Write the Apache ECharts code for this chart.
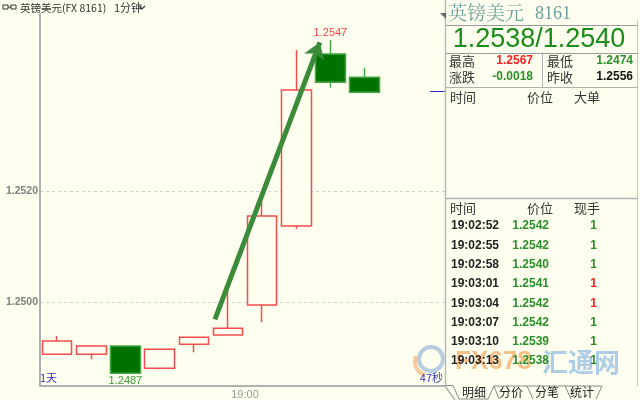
<!DOCTYPE html>
<html><head><meta charset="utf-8">
<script src="https://cdn.jsdelivr.net/npm/echarts@6/dist/echarts.min.js"></script>
<style>html,body{margin:0;padding:0;background:#fffff0}#c{width:640px;height:400px}</style>
</head><body><div id="c"></div>
<script>
// ---- data ----
const categories = ['18:54','18:55','18:56','18:57','18:58','18:59','19:00','19:01','19:02','19:03','19:04','19:05'];
// [open, close, low, high]
const opens  = [1.24906, 1.24906, 1.24921, 1.24881, 1.24924, 1.24941, 1.24995, 1.25137, 1.25447, 1.25405];
const closes = [1.24930, 1.24921, 1.24872, 1.24915, 1.24937, 1.24953, 1.25155, 1.25382, 1.25396, 1.25378];
const lows   = [1.24906, 1.24897, 1.24872, 1.24879, 1.24910, 1.24941, 1.24964, 1.25132, 1.25386, 1.25378];
const highs  = [1.24939, 1.24921, 1.24921, 1.24915, 1.24937, 1.25027, 1.25190, 1.25454, 1.25472, 1.25422];
const yTicks = [1.2500, 1.2520];
const timeTickLabel = '19:00';
const currentPrice = 1.2538;
const arrowPts = [[5.12, 1.24969], [8.19, 1.25468]];

const symbolTitle = '英镑美元(FX 8161)';
const periodLabel = '1分钟';
const panelTitle = '英镑美元';
const panelCode = '8161';
const bidAsk = '1.2538/1.2540';
const stats = [
  ['最高', '1.2567', 'up'], ['最低', '1.2474', 'down'],
  ['涨跌', '-0.0018', 'down'], ['昨收', '1.2556', 'flat']
];
const tickTimes  = ['19:02:52','19:02:55','19:02:58','19:03:01','19:03:04','19:03:07','19:03:10','19:03:13'];
const tickPrices = ['1.2542','1.2542','1.2540','1.2541','1.2542','1.2542','1.2539','1.2538'];
const tickSizes  = ['1','1','1','1','1','1','1','1'];
const tickDirs   = ['down','down','down','up','up','down','down','down'];
const tabs = ['明细','分价','分笔','统计'];

// ---- styles ----
const BG = '#fffff0';
const RED = '#f44c4c';
const CJK = '"Noto Sans CJK SC", sans-serif';
const NUM = '"Liberation Sans", Arial, sans-serif';
const dirColor = d => d === 'up' ? '#ff2020' : d === 'down' ? '#2a8f2a' : '#111';

const chart = echarts.init(document.getElementById('c'), null, {renderer: 'canvas'});
const candles = opens.map((o, i) => [o, closes[i], lows[i], highs[i]]);

const g = [];
function txt(x, y, text, o) {
  o = o || {};
  g.push({type: 'text', x: x, y: y, z: o.z || 10, style: {
    text: text, fill: o.fill || '#222', align: o.align || 'left', verticalAlign: 'middle',
    fontFamily: o.family || CJK, fontSize: o.size || 12, fontWeight: o.weight || 'normal',
    opacity: o.opacity == null ? 1 : o.opacity
  }});
}
function ln(x1, y1, x2, y2, c, w) {
  g.push({type: 'line', z: 10, shape: {x1, y1, x2, y2}, style: {stroke: c || '#a8a8a8', lineWidth: w || 1}});
}

// header left
g.push({type:'rect', shape:{x:3,y:5,width:5,height:4}, style:{fill:'none', stroke:'#333', lineWidth:1}});
g.push({type:'rect', shape:{x:11,y:5,width:5,height:4}, style:{fill:'none', stroke:'#333', lineWidth:1}});
ln(8, 7, 11, 7, '#333', 1);
txt(20, 8, symbolTitle, {size: 10.5, fill: '#333'});
txt(114, 8, periodLabel, {size: 11, fill: '#333'});
g.push({type:'polyline', shape:{points:[[139,6],[142,9],[145,6]]}, style:{stroke:'#333', lineWidth:1.2, fill:'none'}});

// right panel
g.push({type:'rect', z: 8, shape:{x:446, y:0, width:194, height:400}, style:{fill:BG}});
ln(445.5, 0, 445.5, 386, '#b8b8b8', 1.5);
ln(637.5, 20, 637.5, 386, '#c8c8c8', 1);
g.push({type:'polygon', z: 10, shape:{points:[[440,13],[446,13],[446,19]]}, style:{fill:'#666'}});
txt(448, 13, panelTitle, {size: 19, fill: '#6a9f9a', family: '"Noto Serif CJK SC", "Noto Sans CJK SC", serif'});
txt(535, 14, panelCode, {size: 18, fill: '#6a9f9a', family: '"Liberation Serif", "DejaVu Serif", serif'});
ln(446, 25.5, 638, 25.5, '#9a9a9a', 1);
ln(446, 53.5, 638, 53.5, '#9a9a9a', 1);
txt(539, 40, bidAsk, {size: 27, fill: '#1a8c1a', family: NUM, align: 'center'});
ln(542.5, 54, 542.5, 87, '#b0b0b0', 1);
ln(446, 87.5, 638, 87.5, '#b0b0b0', 1);
stats.forEach((s, i) => {
  const col = i % 2, row = Math.floor(i / 2);
  const y = 61 + row * 16;
  txt(col ? 547 : 449, y, s[0], {size: 13, fill: '#333'});
  txt(col ? 633 : 533, y, s[1], {size: 12, fill: dirColor(s[2]), family: NUM, weight: 'bold', align: 'right'});
});
txt(450, 97, '时间', {size: 13, fill: '#333'});
txt(527, 97, '价位', {size: 13, fill: '#333'});
txt(574, 97, '大单', {size: 13, fill: '#333'});
ln(446, 198.5, 638, 198.5, '#b0b0b0', 1.5);
txt(450, 208, '时间', {size: 13, fill: '#333'});
txt(527, 208, '价位', {size: 13, fill: '#333'});
txt(574, 208, '现手', {size: 13, fill: '#333'});
// watermark (behind table text)
g.push({type:'circle', z: 9, shape:{cx:431, cy:359, r:12}, style:{fill:'none', stroke:'#9ab8d8', lineWidth:4, opacity:0.7}});
g.push({type:'arc', z: 9, shape:{cx:428, cy:362, r:13, startAngle:1.8, endAngle:3.6}, style:{fill:'none', stroke:'#f7b27a', lineWidth:4, opacity:0.7}});
txt(455, 362, 'FX678', {size: 26, fill: '#f59a45', family: NUM, weight: 'bold', opacity: 0.62, z: 9});
txt(542, 362, '汇通网', {size: 26, fill: '#6aa3dc', weight: 'bold', opacity: 0.55, z: 9});
tickTimes.forEach((t, i) => {
  const y = 226 + i * 19.3;
  txt(451, y, t, {size: 12, fill: '#222', family: NUM, weight: 'bold'});
  txt(549, y, tickPrices[i], {size: 12, fill: '#2a8f2a', family: NUM, weight: 'bold', align: 'right'});
  txt(597, y, tickSizes[i], {size: 12, fill: dirColor(tickDirs[i]), family: NUM, weight: 'bold', align: 'right'});
});
// tabs
g.push({type:'polyline', z: 10, shape:{points:[[446,385.5],[453,385.5],[459,399],[488,399],[494,386],[527,386],[533,399]]}, style:{stroke:'#888', lineWidth:1, fill:'none'}});
g.push({type:'polyline', z: 10, shape:{points:[[494,386],[499,399]]}, style:{stroke:'#888', lineWidth:1}});
g.push({type:'polyline', z: 10, shape:{points:[[527,386],[565,386],[571,399]]}, style:{stroke:'#888', lineWidth:1, fill:'none'}});
g.push({type:'polyline', z: 10, shape:{points:[[565,386],[602,386],[596,399]]}, style:{stroke:'#888', lineWidth:1, fill:'none'}});
txt(474, 392, tabs[0], {size: 12, fill: '#222', align: 'center'});
txt(511, 392, tabs[1], {size: 12, fill: '#222', align: 'center'});
txt(547, 392, tabs[2], {size: 12, fill: '#222', align: 'center'});
txt(582, 392, tabs[3], {size: 12, fill: '#222', align: 'center'});
// bottom axis diagonal
ln(445, 386, 455, 400, '#b0b0b0', 1.5);
// chart corner labels
txt(40, 378, '1天', {size: 11, fill: '#3535b5'});
txt(443, 378, '47秒', {size: 11, fill: '#3535b5', align: 'right'});

const option = {
  backgroundColor: BG,
  animation: false,
  grid: {left: 40, right: 190, top: 14, bottom: 14, containLabel: false},
  xAxis: [{
    type: 'category', data: categories, boundaryGap: true,
    axisLine: {lineStyle: {color: '#b0b0b0', width: 2}},
    axisTick: {show: false}, axisLabel: {show: false}, splitLine: {show: false}
  }, {
    type: 'value', min: 0, max: 12, interval: 6, position: 'bottom',
    axisLine: {show: false}, axisTick: {show: false}, splitLine: {show: false},
    axisLabel: {show: true, margin: 3, color: '#999', fontSize: 11, fontFamily: NUM,
      formatter: v => v === 6 ? timeTickLabel : ''}
  }],
  yAxis: {
    type: 'value', min: 1.24849, max: 1.25519, scale: true,
    axisLine: {show: true, lineStyle: {color: '#b0b0b0', width: 2}},
    axisTick: {show: false, customValues: yTicks},
    axisLabel: {customValues: yTicks, formatter: v => v.toFixed(4), color: '#808080', fontSize: 10.5,
      fontWeight: 'bold', fontFamily: NUM, margin: 2},
    splitLine: {show: true, lineStyle: {color: '#cfcfcf', type: [3, 3], width: 1}}
  },
  series: [{
    type: 'candlestick', data: candles, barWidth: 30,
    itemStyle: {color: BG, color0: '#007200', borderColor: RED, borderColor0: '#43a843', borderWidth: 1.5},
    markPoint: {
      symbol: 'circle', symbolSize: 0,
      data: [
        {type: 'max', valueDim: 'highest', label: {position: 'top', distance: 2, color: '#ff4545'}},
        {type: 'min', valueDim: 'lowest', label: {position: 'bottom', distance: 2, color: '#3a9a3a'}}
      ],
      label: {show: true, fontSize: 11, fontFamily: NUM, formatter: p => Number(p.value).toFixed(4)}
    }
  }, {
    type: 'lines', coordinateSystem: 'cartesian2d', xAxisIndex: 1, yAxisIndex: 0, z: 5,
    symbol: ['none', 'arrow'], symbolSize: 16,
    lineStyle: {color: '#3a8c3a', width: 5, opacity: 1},
    data: [{coords: arrowPts}]
  }, {
    type: 'lines', coordinateSystem: 'cartesian2d', xAxisIndex: 1, yAxisIndex: 0, z: 5,
    symbol: 'none', lineStyle: {color: '#2f2fd0', width: 1, opacity: 1},
    data: [{coords: [[11.41, currentPrice], [11.9, currentPrice]]}]
  }],
  graphic: g
};
chart.setOption(option);
</script>
</body></html>
